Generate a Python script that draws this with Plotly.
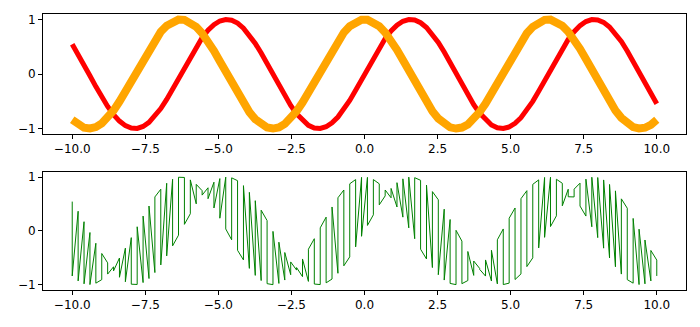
import numpy as np
import plotly.graph_objects as go
from plotly.subplots import make_subplots

# x sample positions (100 evenly spaced points from -10 to 10)
X = np.linspace(-10, 10, 100)

# top panel: red curve values
SIN_Y = [0.544, 0.365, 0.170, -0.031, -0.231, -0.421, -0.595, -0.744, -0.863, -0.947,
         -0.992, -0.997, -0.962, -0.887, -0.776, -0.634, -0.466, -0.279, -0.080, 0.121,
         0.318, 0.502, 0.665, 0.801, 0.905, 0.972, 0.999, 0.986, 0.933, 0.841,
         0.716, 0.561, 0.384, 0.191, -0.010, -0.211, -0.403, -0.578, -0.730, -0.852,
         -0.940, -0.989, -0.999, -0.967, -0.896, -0.789, -0.650, -0.484, -0.298, -0.101,
         0.101, 0.298, 0.484, 0.650, 0.789, 0.896, 0.967, 0.999, 0.989, 0.940,
         0.852, 0.730, 0.578, 0.403, 0.211, 0.010, -0.191, -0.384, -0.561, -0.716,
         -0.841, -0.933, -0.986, -0.999, -0.972, -0.905, -0.801, -0.665, -0.502, -0.318,
         -0.121, 0.080, 0.279, 0.466, 0.634, 0.776, 0.887, 0.962, 0.997, 0.992,
         0.947, 0.863, 0.744, 0.595, 0.421, 0.231, 0.031, -0.170, -0.365, -0.544]

# top panel: orange curve values
COS_Y = [-0.839, -0.931, -0.985, -0.999, -0.973, -0.907, -0.804, -0.668, -0.505, -0.322,
         -0.126, 0.076, 0.275, 0.462, 0.631, 0.774, 0.885, 0.960, 0.997, 0.993,
         0.948, 0.865, 0.747, 0.598, 0.425, 0.235, 0.035, -0.166, -0.361, -0.541,
         -0.698, -0.828, -0.924, -0.982, -1.000, -0.978, -0.915, -0.816, -0.683, -0.523,
         -0.341, -0.146, 0.056, 0.255, 0.444, 0.615, 0.760, 0.875, 0.954, 0.995,
         0.995, 0.954, 0.875, 0.760, 0.615, 0.444, 0.255, 0.056, -0.146, -0.341,
         -0.523, -0.683, -0.816, -0.915, -0.978, -1.000, -0.982, -0.924, -0.828, -0.698,
         -0.541, -0.361, -0.166, 0.035, 0.235, 0.425, 0.598, 0.747, 0.865, 0.948,
         0.993, 0.997, 0.960, 0.885, 0.774, 0.631, 0.462, 0.275, 0.076, -0.126,
         -0.322, -0.505, -0.668, -0.804, -0.907, -0.973, -0.999, -0.985, -0.931, -0.839]

# bottom panel: at each x both values are visited; 0 = red-curve value first, 1 = orange-curve value first
ORDER = [0, 0, 0, 0, 0, 1, 0, 1, 1, 1,
         1, 0, 0, 0, 0, 1, 1, 1, 0, 1,
         0, 0, 1, 0, 0, 0, 0, 1, 0, 1,
         1, 1, 1, 0, 1, 1, 1, 1, 0, 0,
         0, 1, 0, 1, 0, 0, 1, 0, 1, 1,
         1, 0, 1, 0, 1, 1, 1, 1, 1, 0,
         1, 1, 0, 0, 0, 1, 0, 1, 1, 1,
         0, 0, 0, 1, 0, 1, 0, 1, 0, 1,
         1, 1, 0, 1, 1, 1, 0, 1, 1, 1,
         1, 1, 1, 1, 0, 1, 1, 1, 1, 0]

X_TICKS = [-10, -7.5, -5, -2.5, 0, 2.5, 5, 7.5, 10]
X_TICK_LABELS = ["\u221210.0", "\u22127.5", "\u22125.0", "\u22122.5", "0.0", "2.5", "5.0", "7.5", "10.0"]
Y_TICKS = [-1, 0, 1]
Y_TICK_LABELS = ["\u22121", "0", "1"]

bx, by = [], []
for i in range(len(X)):
    pair = (SIN_Y[i], COS_Y[i]) if ORDER[i] == 0 else (COS_Y[i], SIN_Y[i])
    bx += [X[i], X[i]]
    by += list(pair)

fig = make_subplots(rows=2, cols=1, vertical_spacing=0.137)
fig.add_trace(go.Scatter(x=X, y=SIN_Y, mode="lines", line=dict(color="#ff0000", width=5)), row=1, col=1)
fig.add_trace(go.Scatter(x=X, y=COS_Y, mode="lines", line=dict(color="#ffa500", width=8)), row=1, col=1)
fig.add_trace(go.Scatter(x=bx, y=by, mode="lines", line=dict(color="#008000", width=1)), row=2, col=1)

axis_common = dict(showline=True, mirror=True, linecolor="black", linewidth=1,
                   ticks="outside", ticklen=4, tickwidth=1, tickcolor="black",
                   showgrid=False, zeroline=False,
                   tickfont=dict(family="DejaVu Sans", size=12, color="black"))
for r in (1, 2):
    fig.update_xaxes(range=[-11, 11], tickvals=X_TICKS, ticktext=X_TICK_LABELS, **axis_common, row=r, col=1)
    fig.update_yaxes(range=[-1.1, 1.1], tickvals=Y_TICKS, ticktext=Y_TICK_LABELS, **axis_common, row=r, col=1)

fig.update_layout(width=700, height=327, showlegend=False,
                  margin=dict(l=43, r=14, t=14, b=37),
                  paper_bgcolor="white", plot_bgcolor="white")
fig.update_yaxes(domain=[0.5652, 1.0], row=1, col=1)
fig.update_yaxes(domain=[0.0, 0.4286], row=2, col=1)
fig.write_html("out.html")
